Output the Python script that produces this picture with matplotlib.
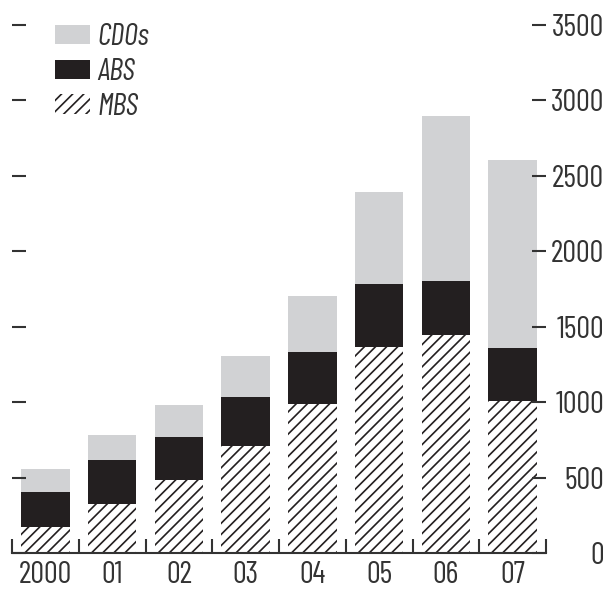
import matplotlib
matplotlib.use("Agg")
import matplotlib.pyplot as plt
from matplotlib.patches import Patch
import numpy as np

years = ["2000", "01", "02", "03", "04", "05", "06", "07"]
mbs = [172, 325, 484, 710, 991, 1368, 1445, 1005]
abs_ = [233, 292, 285, 321, 339, 416, 361, 352]
cdos = [152, 165, 212, 275, 376, 609, 1090, 1246]
yticks = [0, 500, 1000, 1500, 2000, 2500, 3000, 3500]

CDO_GREY = "#d1d2d4"
ABS_BLACK = "#231f20"
TEXT = "#333333"

plt.rcParams["font.family"] = ["Barlow Condensed", "DejaVu Sans"]
plt.rcParams["hatch.linewidth"] = 1.2

fig = plt.figure(figsize=(6.07, 5.91), dpi=100)
ax = fig.add_axes([12 / 607, 1 - 553 / 591, 534 / 607, 528 / 591])

x = np.arange(len(years))
w = 0.73
mbs_a = np.array(mbs)
abs_a = np.array(abs_)
ax.bar(x, mbs, w, color="white", edgecolor=ABS_BLACK, linewidth=0, hatch="///")
ax.bar(x, abs_, w, bottom=mbs_a, color=ABS_BLACK, linewidth=0)
ax.bar(x, cdos, w, bottom=mbs_a + abs_a, color=CDO_GREY, linewidth=0)

ax.set_xlim(-0.5, len(years) - 0.5)
ax.set_ylim(0, 3500)

for side in ("left", "right", "top"):
    ax.spines[side].set_visible(False)
ax.spines["bottom"].set_linewidth(1.5)
ax.spines["bottom"].set_color(TEXT)

ax.set_xticks(x)
ax.set_xticklabels(years)
ax.set_xticks(np.arange(-0.5, len(years)), minor=True)
ax.tick_params(axis="x", which="major", length=0, pad=6, labelsize=22, labelcolor=TEXT)
ax.tick_params(axis="x", which="minor", direction="in", length=10, width=1.5, color=TEXT)

ax.set_yticks(yticks)
ax.set_yticklabels([str(v) for v in yticks])
ax.tick_params(axis="y", left=True, right=True, labelleft=False, labelright=True,
               direction="in", length=10, width=1.5, color=TEXT,
               labelsize=22, labelcolor=TEXT, pad=42)
for lbl in ax.get_yticklabels():
    lbl.set_horizontalalignment("right")

handles = [
    Patch(facecolor=CDO_GREY, linewidth=0, label="CDOs"),
    Patch(facecolor=ABS_BLACK, linewidth=0, label="ABS"),
    Patch(facecolor="white", edgecolor=ABS_BLACK, linewidth=0, hatch="///", label="MBS"),
]
leg = ax.legend(handles=handles, loc="upper left", bbox_to_anchor=(0.08, 1.003),
                frameon=False, prop={"size": 22, "style": "italic"},
                handlelength=1.15, handleheight=0.6, handletextpad=0.25,
                labelspacing=0.22, borderpad=0, borderaxespad=0)
for t in leg.get_texts():
    t.set_color(TEXT)

fig.savefig("out.png", dpi=100)
